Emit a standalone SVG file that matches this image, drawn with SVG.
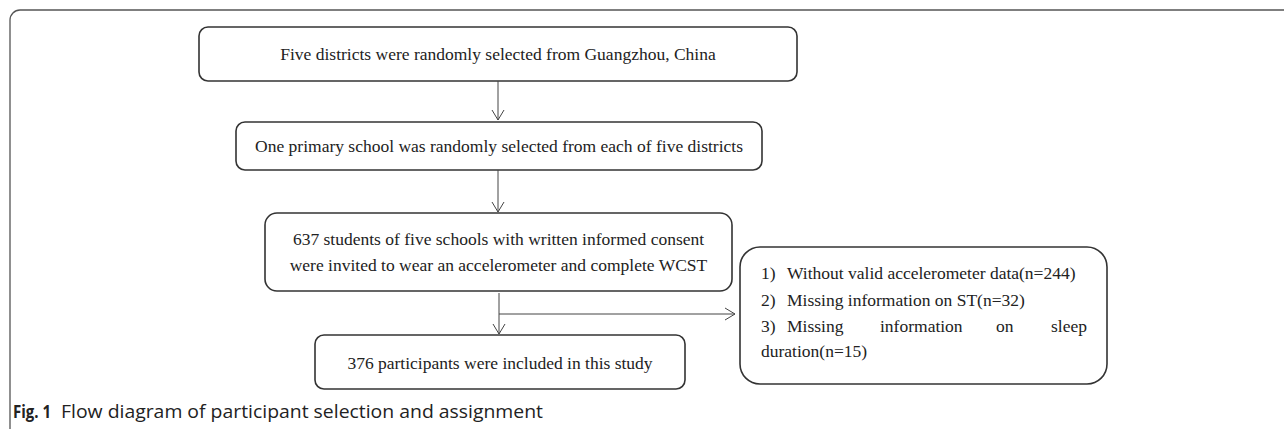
<svg xmlns="http://www.w3.org/2000/svg" width="1284" height="429" viewBox="0 0 1284 429">
<style>
.box{fill:#fff;stroke:#333;stroke-width:1.6}
.t{font-family:"Liberation Serif","Times New Roman",serif;font-size:17.5px;fill:#222}
.c{stroke:#444;stroke-width:1;fill:none}
.cap{font-family:"Open Sans","Noto Sans",sans-serif;font-size:18.5px;fill:#222}
</style>
<defs>
<marker id="ah" markerUnits="userSpaceOnUse" markerWidth="14" markerHeight="14" refX="11" refY="7" orient="auto">
<path d="M1,1 L11,7 L1,13" fill="none" stroke="#444" stroke-width="1"/>
</marker>
</defs>
<rect x="10" y="10" width="1300" height="460" rx="10" fill="#fff" stroke="#555" stroke-width="1.3"/>
<g id="n1"><rect class="box" x="199" y="27" width="598" height="54" rx="9"/>
<text class="t" x="498" y="60" text-anchor="middle">Five districts were randomly selected from Guangzhou, China</text></g>
<g id="n2"><rect class="box" x="236" y="122" width="526" height="48" rx="9"/>
<text class="t" x="499" y="152" text-anchor="middle">One primary school was randomly selected from each of five districts</text></g>
<g id="n3"><rect class="box" x="265" y="213" width="467" height="78" rx="12"/>
<text class="t" x="498.5" y="245" text-anchor="middle">637 students of five schools with written informed consent</text>
<text class="t" x="498.5" y="271" text-anchor="middle">were invited to wear an accelerometer and complete WCST</text></g>
<g id="n4"><rect class="box" x="740" y="247" width="367" height="137" rx="20"/>
<text class="t" x="761" y="279">1)</text><text class="t" x="787" y="279">Without valid accelerometer data(n=244)</text>
<text class="t" x="761" y="306">2)</text><text class="t" x="787" y="306">Missing information on ST(n=32)</text>
<text class="t" x="761" y="332">3)</text><text class="t" x="787" y="332">Missing</text><text class="t" x="880" y="332">information</text><text class="t" x="996" y="332">on</text><text class="t" x="1087" y="332" text-anchor="end">sleep</text>
<text class="t" x="761" y="357">duration(n=15)</text></g>
<g id="n5"><rect class="box" x="315" y="335" width="370" height="54" rx="9"/>
<text class="t" x="500" y="369" text-anchor="middle">376 participants were included in this study</text></g>
<g id="connectors">
<line class="c" x1="498" y1="81" x2="498" y2="120" marker-end="url(#ah)"/>
<line class="c" x1="498" y1="170" x2="498" y2="212" marker-end="url(#ah)"/>
<line class="c" x1="499" y1="293" x2="499" y2="334" marker-end="url(#ah)"/>
<line class="c" x1="499" y1="314" x2="735" y2="314" marker-end="url(#ah)"/>
</g>
<text class="cap" x="13" y="418" font-weight="bold" textLength="38" lengthAdjust="spacingAndGlyphs">Fig. 1</text>
<text class="cap" x="61" y="418" textLength="482" lengthAdjust="spacingAndGlyphs">Flow diagram of participant selection and assignment</text>
</svg>
